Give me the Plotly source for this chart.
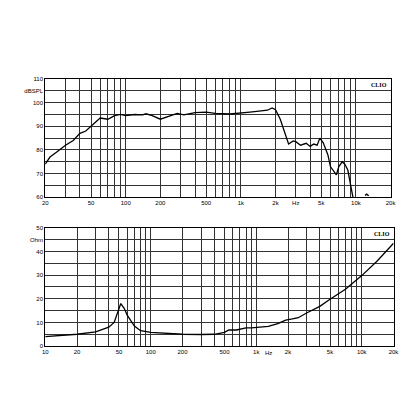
import plotly.graph_objects as go
from plotly.subplots import make_subplots

spl_freq = [20, 22, 25, 30, 35, 40, 45, 50, 55, 60, 70, 80, 90, 100, 120, 140, 150, 170, 200, 230,
            280, 320, 400, 500, 600, 800, 1000, 1200, 1500, 1700, 1870, 2000, 2200, 2400, 2600, 2850,
            3000, 3300, 3700, 4000, 4300, 4600, 4860, 5200, 5700, 6000, 6300, 6760, 7100, 7600, 8000,
            8500, 9000, 9380, 9500]
spl_db = [74, 77, 79, 82, 84, 87, 88, 90, 92, 93.5, 93, 94.5, 95, 94.5, 95, 94.8, 95.3, 94.5, 93, 94,
          95.5, 94.8, 95.8, 96, 95.5, 95.2, 95.8, 96, 96.5, 96.8, 97.8, 97, 93, 88, 82.5, 83.8,
          83.5, 82, 82.8, 81.5, 82.5, 82, 85, 83, 78, 73, 71.5, 69.5, 73, 75, 74,
          71.5, 65, 60, 59]
blip_freq = [12000, 12400, 12900]
blip_db = [60.8, 61.3, 60.6]

imp_freq = [10, 15, 20, 30, 40, 45, 48, 52, 56, 60, 70, 80, 100, 150, 200, 300, 400, 500, 550,
            650, 700, 800, 900, 1000, 1300, 1600, 1900, 2200, 2500, 3000, 4000, 5000, 7000, 10000,
            14000, 20000]
imp_ohm = [4, 4.5, 5, 6, 8, 10, 14, 18, 16, 13, 8.5, 6.5, 5.8, 5.2, 5, 4.9, 5, 5.8, 6.8,
           6.8, 7.2, 7.7, 7.7, 7.8, 8.3, 9.5, 11, 11.5, 12, 14, 16.8, 19.8, 24, 29.8,
           36, 43.5]

top_x_labels = {20: "20", 50: "50", 100: "100", 200: "200", 500: "500", 1000: "1k",
                2000: "2k", 3000: "Hz", 5000: "5k", 10000: "10k", 20000: "20k"}
bot_x_labels = {10: "10", 20: "20", 50: "50", 100: "100", 200: "200", 500: "500", 1000: "1k",
                2000: "2k", 5000: "5k", 10000: "10k", 20000: "20k"}
top_y_labels = {60: "60", 70: "70", 80: "80", 90: "90", 100: "100", 105: "dBSPL", 110: "110"}
bot_y_labels = {0: "0", 10: "10", 20: "20", 30: "30", 40: "40", 45: "Ohm", 50: "50"}


def decade_ticks(lo, hi):
    vals = []
    d = 1
    while d <= hi:
        for m in range(1, 10):
            v = m * d
            if lo <= v <= hi:
                vals.append(v)
        d *= 10
    return vals


fig = make_subplots(rows=2, cols=1)
fig.add_trace(go.Scatter(x=spl_freq, y=spl_db, mode="lines", line=dict(color="black", width=1.3)), 1, 1)
fig.add_trace(go.Scatter(x=blip_freq, y=blip_db, mode="lines", line=dict(color="black", width=1.3)), 1, 1)
fig.add_trace(go.Scatter(x=imp_freq, y=imp_ohm, mode="lines", line=dict(color="black", width=1.3)), 2, 1)

tick_font = dict(family="Liberation Sans", size=6, color="black")
axis_common = dict(showgrid=True, gridcolor="#333", gridwidth=1, showline=True, linecolor="black",
                   linewidth=1, mirror=True, zeroline=False, ticks="", tickfont=tick_font)

xt = decade_ticks(20, 20000)
fig.update_xaxes(type="log", range=[1.30103, 4.30103], domain=[35 / 416, 388 / 416],
                 tickvals=xt, ticktext=[top_x_labels.get(v, "") for v in xt], row=1, col=1, **axis_common)
xb = decade_ticks(10, 20000)
fig.update_xaxes(type="log", range=[1, 4.30103], domain=[35 / 416, 391 / 416],
                 tickvals=xb, ticktext=[bot_x_labels.get(v, "") for v in xb], row=2, col=1, **axis_common)
yt = list(range(60, 111, 5))
fig.update_yaxes(range=[60, 110], domain=[1 - 189 / 416, 1 - 69 / 416], tickvals=yt,
                 ticktext=[top_y_labels.get(v, "") for v in yt], row=1, col=1, **axis_common)
yb = list(range(0, 51, 5))
fig.update_yaxes(range=[0, 50], domain=[1 - 340 / 416, 1 - 220 / 416], tickvals=yb,
                 ticktext=[bot_y_labels.get(v, "") for v in yb], row=2, col=1, **axis_common)

clio_font = dict(family="Liberation Serif", size=6, color="black")
fig.add_annotation(x=4.29, y=109.5, xref="x", yref="y", text="<b>CLIO</b>", showarrow=False,
                   xanchor="right", yanchor="top", font=clio_font)
fig.add_annotation(x=4.29, y=49.7, xref="x2", yref="y2", text="<b>CLIO</b>", showarrow=False,
                   xanchor="right", yanchor="top", font=clio_font)
fig.add_annotation(x=3.12, y=1 - 342 / 416, xref="x2", yref="paper", yanchor="top",
                   text="Hz", showarrow=False, font=tick_font)

fig.update_layout(width=416, height=416, margin=dict(l=0, r=0, t=0, b=0), showlegend=False,
                  paper_bgcolor="white", plot_bgcolor="white")
fig.write_html("out.html")
